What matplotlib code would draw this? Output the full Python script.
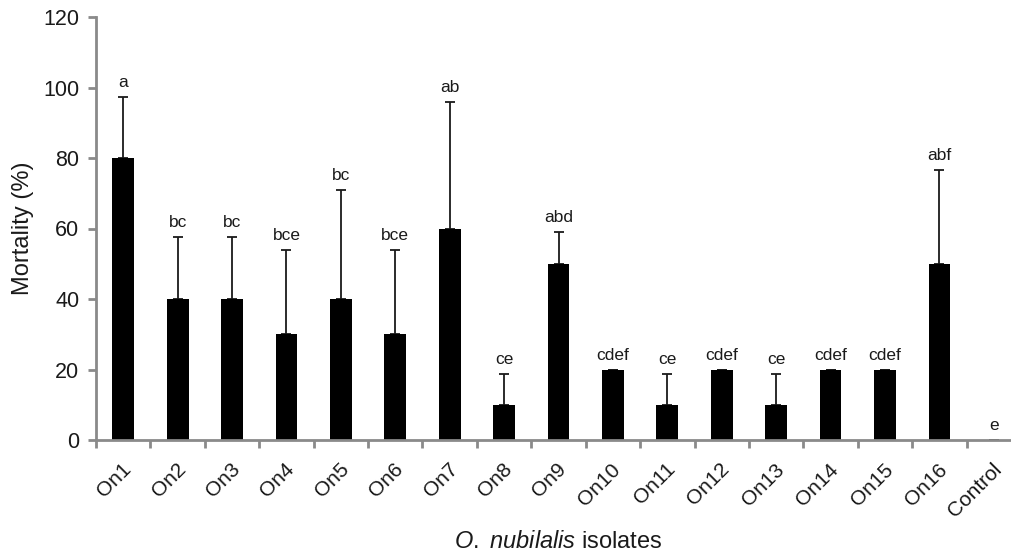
import matplotlib
matplotlib.use("Agg")
import matplotlib.pyplot as plt
import matplotlib.transforms as mtransforms
import numpy as np

categories = ["On1", "On2", "On3", "On4", "On5", "On6", "On7", "On8", "On9",
              "On10", "On11", "On12", "On13", "On14", "On15", "On16", "Control"]
mortality = [80, 40, 40, 30, 40, 30, 60, 10, 50, 20, 10, 20, 10, 20, 20, 50, 0]
error_up = [17.3, 17.7, 17.7, 23.9, 30.8, 23.9, 35.8, 8.7, 9.0, 0, 8.7, 0, 8.7, 0, 0, 26.5, 0]
letters = ["a", "bc", "bc", "bce", "bc", "bce", "ab", "ce", "abd",
           "cdef", "ce", "cdef", "ce", "cdef", "cdef", "abf", "e"]
yticks = [0, 20, 40, 60, 80, 100, 120]

plt.rcParams['font.family'] = ['Liberation Sans', 'DejaVu Sans']
plt.rcParams['mathtext.fontset'] = 'custom'
plt.rcParams['mathtext.rm'] = 'Liberation Sans'
plt.rcParams['mathtext.it'] = 'Liberation Sans:italic'

fig = plt.figure(figsize=(10.11, 5.53), dpi=100)
ax = fig.add_axes([96/1011, 113/553, 925/1011, 423/553])

x = np.arange(len(categories))
ax.bar(x, mortality, width=0.4, color="black", zorder=2)
errs = np.vstack([np.zeros(len(error_up)), error_up])
ax.errorbar(x, mortality, yerr=errs, fmt="none", ecolor="#1a1a1a",
            elinewidth=1.3, capsize=3.6, capthick=1.3, zorder=1)

for xi, m, e, lab in zip(x, mortality, error_up, letters):
    ax.annotate(lab, (xi, m + e), xytext=(0, 5), textcoords="offset points",
                ha="center", va="bottom", fontsize=12.5, color="#1a1a1a")

ax.set_xlim(-0.5, len(categories) - 0.5)
ax.set_ylim(0, 120)
ax.set_yticks(yticks)
ax.set_yticklabels([str(v) for v in yticks], fontsize=15.5, color="#1a1a1a")

ax.set_xticks(x)
ax.set_xticklabels(categories, rotation=45, ha="right", va="center",
                   rotation_mode="anchor", fontsize=15, color="#1a1a1a")
ax.tick_params(axis="x", which="major", length=0, pad=19)
shift = mtransforms.ScaledTranslation(5 / 100, 0, fig.dpi_scale_trans)
for lbl in ax.get_xticklabels():
    lbl.set_transform(lbl.get_transform() + shift)
ax.set_xticks(np.arange(-0.5, len(categories) + 0.5, 1), minor=True)
ax.tick_params(axis="x", which="minor", length=6, width=2, color="#8a8a8a")
ax.tick_params(axis="y", length=6, width=2, color="#8a8a8a", pad=6)

for s in ["top", "right"]:
    ax.spines[s].set_visible(False)
for s in ["left", "bottom"]:
    ax.spines[s].set_color("#8a8a8a")
    ax.spines[s].set_linewidth(2)

ax.set_ylabel("Mortality (%)", fontsize=17, color="#1a1a1a", va="center")
ax.yaxis.set_label_coords(-(96 - 23) / 925, 0.5)
ax.set_xlabel("$\\it{O.\\ nubilalis}$ isolates", fontsize=17, color="#1a1a1a")
ax.xaxis.set_label_coords(0.5, -(542 - 440) / 423)
ax.xaxis.label.set_va("center")

fig.savefig("out.png", dpi=100)
